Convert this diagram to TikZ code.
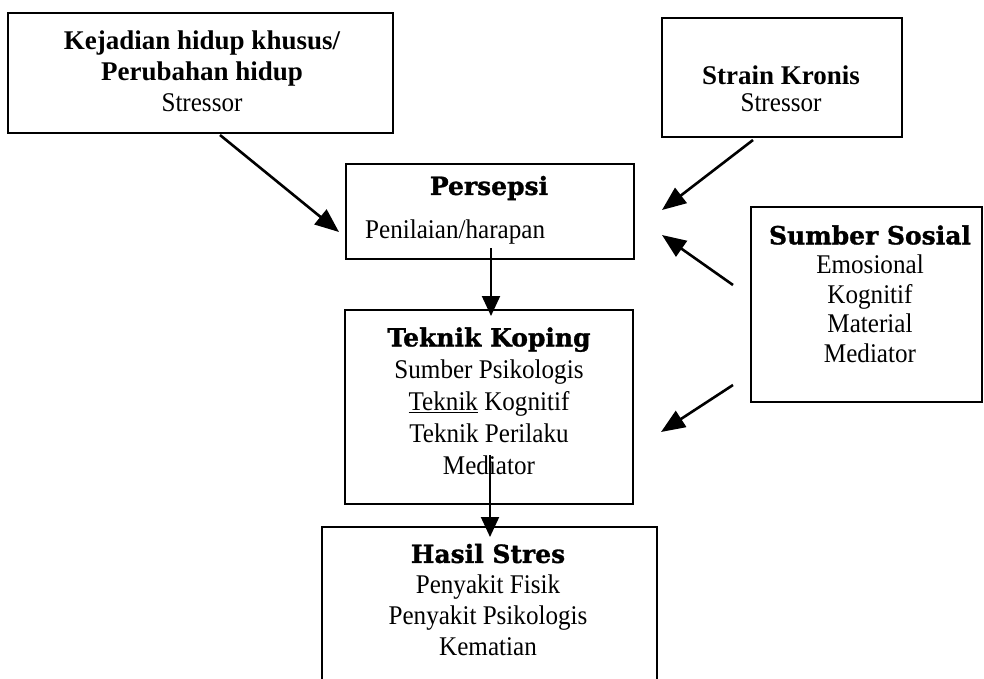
\documentclass[tikz,border=0pt]{standalone}
\usepackage{fontspec}
\setmainfont{Liberation Serif}
\newfontfamily\bodyfont{Liberation Serif}[FakeStretch=0.93]
\newfontfamily\heavyfont{DejaVu Serif}[BoldFeatures={FakeBold=1.2}]
\usetikzlibrary{arrows.meta}
\newcommand\hdr[1]{{\heavyfont\bfseries\fontsize{25}{31}\selectfont #1}}
\newcommand\tb[1]{{\normalfont\bfseries #1}}
\begin{document}
\begin{tikzpicture}[x=1pt,y=-1pt,
  box/.style={draw,line width=1.8pt,inner sep=0pt},
  txt/.style={align=center,inner sep=0pt,font=\bodyfont\fontsize{27}{31}\selectfont},
  arr/.style={line width=2.6pt,-{Triangle[length=24pt,width=19pt]}},
  varr/.style={line width=2pt,-{Triangle[length=20pt,width=18pt]}}]
\useasboundingbox (0,0) rectangle (984,678);
\clip (0,0) rectangle (984,678);
\fill[white] (0,0) rectangle (984,678);

% boxes
\node[box,minimum width=385pt,minimum height=120pt] (b1) at (200.5,73) {};
\node[box,minimum width=240pt,minimum height=119pt] (b2) at (782,77.5) {};
\node[box,minimum width=288pt,minimum height=95pt] (bp) at (490,211.5) {};
\node[box,minimum width=231pt,minimum height=195pt] (bs) at (866.5,304.5) {};
\node[box,minimum width=288pt,minimum height=194pt] (bt) at (489,407) {};
\node[box,minimum width=335pt,minimum height=173pt] (bh) at (489.5,613.5) {};

% texts
\node[txt] (t1) at (202,71) {\tb{Kejadian hidup khusus/}\\\tb{Perubahan hidup}\\Stressor};
\node[txt,font=\bodyfont\fontsize{27}{27}\selectfont] (t2) at (781,89) {\tb{Strain Kronis}\\Stressor};
\node[txt] (tp1) at (489,188) {\hdr{Persepsi}};
\node[txt,anchor=west] (tp2) at (365,232) {Penilaian/harapan};
\node[txt,font=\bodyfont\fontsize{27}{29.5}\selectfont] (ts) at (870,294) {\hdr{Sumber Sosial}\\Emosional\\Kognitif\\Material\\Mediator};
\node[txt,font=\bodyfont\fontsize{27}{32}\selectfont] (tt) at (489,401) {\hdr{Teknik Koping}\\Sumber Psikologis\\\underline{Teknik} Kognitif\\Teknik Perilaku\\Mediator};
\node[txt] (th) at (488,600) {\hdr{Hasil Stres}\\Penyakit Fisik\\Penyakit Psikologis\\Kematian};

% connector end points
\coordinate (a1s) at (220,135);
\coordinate (a1e) at (339,232);
\coordinate (a2s) at (753,140);
\coordinate (a2e) at (662,210);
\coordinate (a3s) at (733,285);
\coordinate (a3e) at (662,235);
\coordinate (a4s) at (733,385);
\coordinate (a4e) at (661,432);
\coordinate (v1s) at (491,248);
\coordinate (v1e) at (491,316);
\coordinate (v2s) at (490,455);
\coordinate (v2e) at (490,537);

\draw[arr] (a1s) -- (a1e);
\draw[arr] (a2s) -- (a2e);
\draw[arr] (a3s) -- (a3e);
\draw[arr] (a4s) -- (a4e);
\draw[varr] (v1s) -- (v1e);
\draw[varr] (v2s) -- (v2e);
\end{tikzpicture}
\end{document}
